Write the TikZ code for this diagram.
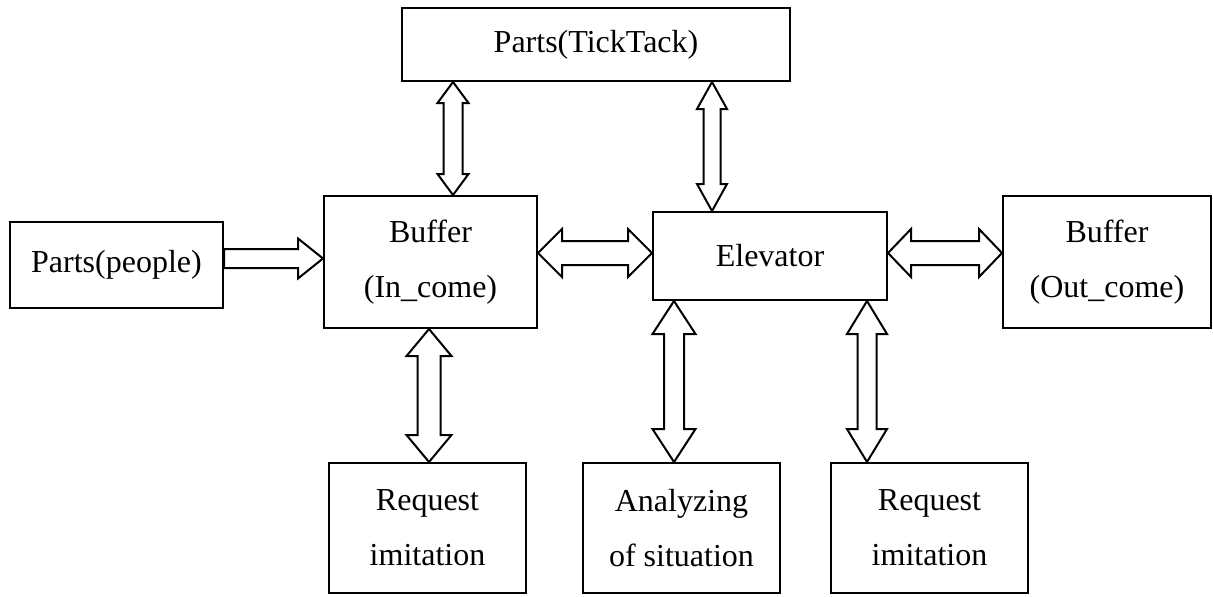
\documentclass[tikz,border=0pt]{standalone}
\usepackage{fontspec}
\setmainfont{Liberation Serif}
\usetikzlibrary{calc}

\tikzset{
  BoxStyle/.style={draw, line width=1pt, rectangle, align=center, inner sep=0pt,
    font=\fontsize{16pt}{27.5pt}\selectfont},
  ArrowStyle/.style={draw, line width=1pt, fill=white, line join=miter}
}

% hollow block arrows: #3 half shaft, #4 half head, #5 head length
\newcommand{\DoubleArrow}[5]{%
  \path[ArrowStyle] let \p1=(#1), \p2=(#2), \n1={atan2(\y2-\y1,\x2-\x1)},
    \n2={veclen(\x2-\x1,\y2-\y1)} in [shift={(\p1)}, rotate=\n1]
    (0pt,0pt) -- (#5,#4) -- (#5,#3) -- (\n2-#5,#3) -- (\n2-#5,#4) -- (\n2,0pt)
    -- (\n2-#5,-#4) -- (\n2-#5,-#3) -- (#5,-#3) -- (#5,-#4) -- cycle;}
\newcommand{\SingleArrow}[5]{%
  \path[ArrowStyle] let \p1=(#1), \p2=(#2), \n1={atan2(\y2-\y1,\x2-\x1)},
    \n2={veclen(\x2-\x1,\y2-\y1)} in [shift={(\p1)}, rotate=\n1]
    (0pt,#3) -- (\n2-#5,#3) -- (\n2-#5,#4) -- (\n2,0pt)
    -- (\n2-#5,-#4) -- (\n2-#5,-#3) -- (0pt,-#3) -- cycle;}

\begin{document}
\begin{tikzpicture}[x=0.5pt, y=-0.5pt]
\useasboundingbox (0,0) rectangle (1213,596);

\node[BoxStyle, minimum width=194pt, minimum height=36.5pt] (ticktack) at (596,44.5) {Parts(TickTack)};
\node[BoxStyle, minimum width=106.5pt, minimum height=43pt] (people) at (116.5,265) {Parts(people)};
\node[BoxStyle, minimum width=106.5pt, minimum height=66pt] (bufin) at (430.5,262) {Buffer\\(In\_come)};
\node[BoxStyle, minimum width=117pt, minimum height=44pt] (elev) at (770,256) {Elevator};
\node[BoxStyle, minimum width=104pt, minimum height=66pt] (bufout) at (1107,262) {Buffer\\(Out\_come)};
\node[BoxStyle, minimum width=98.5pt, minimum height=65pt] (reqL) at (427.5,528) {Request\\imitation};
\node[BoxStyle, minimum width=98.5pt, minimum height=65pt] (anal) at (681.5,528) {Analyzing\\of situation};
\node[BoxStyle, minimum width=98.5pt, minimum height=65pt] (reqR) at (929.5,528) {Request\\imitation};

% connectors
\coordinate (pp) at ([yshift=3.25pt]people.east);
\SingleArrow{pp}{bufin.west |- pp}{4.75pt}{10pt}{12.5pt}
\coordinate (ie) at ([yshift=4.5pt]bufin.east);
\DoubleArrow{ie}{elev.west |- ie}{6pt}{12pt}{12pt}
\coordinate (eo) at ([yshift=1.5pt]elev.east);
\DoubleArrow{eo}{bufout.west |- eo}{6pt}{12pt}{11.5pt}
\coordinate (ti) at ([xshift=11.25pt]bufin.north);
\DoubleArrow{ti |- ticktack.south}{ti}{4.75pt}{7.75pt}{10.5pt}
\coordinate (te) at ([xshift=-29pt]elev.north);
\DoubleArrow{te |- ticktack.south}{te}{4.25pt}{7.5pt}{13.5pt}
\coordinate (ir) at ([xshift=-0.75pt]bufin.south);
\DoubleArrow{ir}{ir |- reqL.north}{5.75pt}{11.25pt}{13.5pt}
\coordinate (ea) at ([xshift=-48pt]elev.south);
\DoubleArrow{ea}{ea |- anal.north}{5pt}{10.75pt}{16.5pt}
\coordinate (er) at ([xshift=48.5pt]elev.south);
\DoubleArrow{er}{er |- reqR.north}{4.75pt}{10pt}{16.5pt}
\end{tikzpicture}
\end{document}
